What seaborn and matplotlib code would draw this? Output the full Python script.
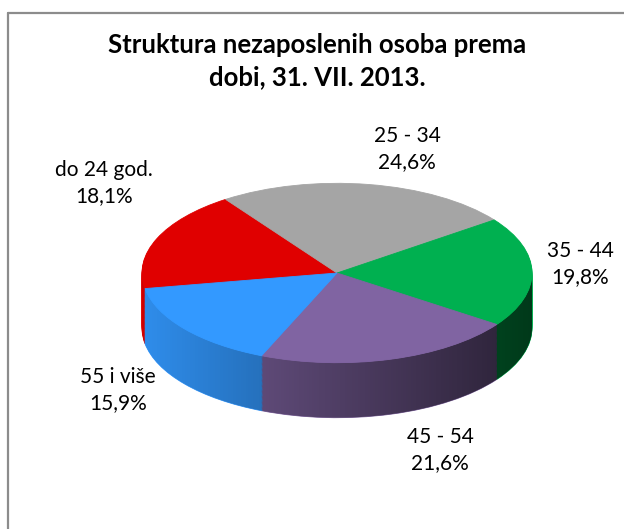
import numpy as np
import matplotlib
matplotlib.use("Agg")
import matplotlib.pyplot as plt
import seaborn as sns
from matplotlib.lines import Line2D
from matplotlib.patches import Polygon

# data
age_groups = ["do 24 god.", "25 - 34", "35 - 44", "45 - 54", "55 i više"]
shares = [18.1, 24.6, 19.8, 21.6, 15.9]
share_labels = ["18,1%", "24,6%", "19,8%", "21,6%", "15,9%"]
top_colors = ["#E00000", "#A5A5A5", "#00B050", "#8064A2", "#3399FF"]

# label centres in pixels (from top-left), same order as age_groups
label_pos = [(104, 183), (407, 149), (580, 264), (440, 450), (118, 390)]

sns.set_theme(style="white")
plt.rcParams["font.family"] = ["Lato", "DejaVu Sans"]

W, H = 624, 529
fig = plt.figure(figsize=(W / 100, H / 100), dpi=100)
ax = fig.add_axes([0, 0, 1, 1])

cx, cy = 337, 273      # pie centre, pixels
R = 195                # radius, pixels (horizontal)
k = 0.46               # vertical squash of the tilted pie
depth = 55 / k         # side height in data units
start = 190

# side walls: stacked copies of the pie, drawn bottom to top
for z in np.linspace(depth, 0, 45, endpoint=False):
    wedges, _ = ax.pie(shares, colors=top_colors, startangle=start,
                       counterclock=False, radius=R, center=(0, -z),
                       frame=True, wedgeprops=dict(linewidth=0.6))
    for w in wedges:
        w.set_edgecolor(w.get_facecolor())
        w.set_zorder(1)

# horizontal shading on the side band
t = np.linspace(np.pi, 2 * np.pi, 300)
top_arc = np.c_[R * np.cos(t), R * np.sin(t)]
bot_arc = np.c_[R * np.cos(t[::-1]), R * np.sin(t[::-1]) - depth]
band = Polygon(np.vstack([top_arc, bot_arc]), closed=True,
               facecolor="none", edgecolor="none")
ax.add_patch(band)
shade = np.zeros((1, 256, 4))
shade[..., 3] = np.linspace(0.08, 0.68, 256)
im = ax.imshow(shade, extent=(-R, R, -R - depth, 0), aspect="auto",
               interpolation="bilinear", zorder=2)
im.set_clip_path(band)

# top face
wedges, _ = ax.pie(shares, colors=top_colors, startangle=start,
                   counterclock=False, radius=R, center=(0, 0), frame=True,
                   wedgeprops=dict(linewidth=0.6))
for w in wedges:
    w.set_edgecolor(w.get_facecolor())
    w.set_zorder(3)

ax.set_aspect("auto")
ax.set_xlim(-cx, W - cx)
ax.set_ylim(-(H - cy) / k, cy / k)
ax.axis("off")

# chart frame (only left and top edges are visible)
fig.add_artist(Line2D([7.5 / W, 7.5 / W], [0, 1 - 13 / H], color="#8C8C8C", lw=1.6))
fig.add_artist(Line2D([7.5 / W, 1], [1 - 13 / H, 1 - 13 / H], color="#8C8C8C", lw=1.6))

fig.text(317 / W, 1 - 61 / H, "Struktura nezaposlenih osoba prema\ndobi, 31. VII. 2013.",
         ha="center", va="center", fontsize=18.5, fontweight="bold",
         linespacing=1.4, color="black")

for name, pct, (px, py) in zip(age_groups, share_labels, label_pos):
    fig.text(px / W, 1 - py / H, f"{name}\n{pct}", ha="center", va="center",
             fontsize=15, linespacing=1.35, color="black")

fig.savefig("out.png", dpi=100, facecolor="white")
